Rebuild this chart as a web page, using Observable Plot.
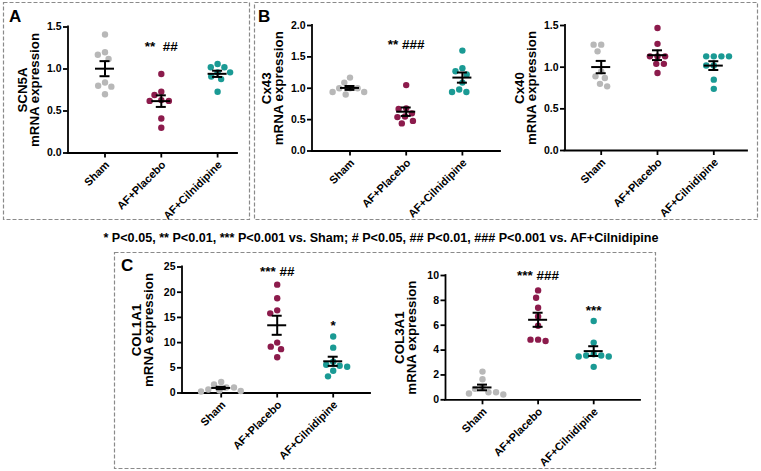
<!DOCTYPE html>
<html><head><meta charset="utf-8">
<script src="https://cdn.jsdelivr.net/npm/d3@7"></script>
<script src="https://cdn.jsdelivr.net/npm/@observablehq/plot@0.6"></script>
<style>
html,body{margin:0;padding:0;background:#fff;}
#fig{position:relative;width:761px;height:471px;overflow:hidden;font-family:"Liberation Sans",Arial,sans-serif;}
.panel{position:absolute;}
#overlay{position:absolute;left:0;top:0;}
</style></head><body>
<div id="fig"></div>
<script>
// ---------- data ----------
const groups = ["Sham", "AF+Placebo", "AF+Cilnidipine"];

const scn5aSham    = [1.41, 1.20, 1.17, 1.12, 0.84, 0.80, 0.79, 0.70];
const scn5aPlacebo = [0.94, 0.73, 0.69, 0.63, 0.62, 0.62, 0.41, 0.30];
const scn5aCil     = [1.06, 1.02, 1.02, 0.96, 0.96, 0.91, 0.88, 0.73];

const cx43Sham     = [1.17, 1.09, 1.00, 1.00, 1.00, 0.94, 0.94, 0.90];
const cx43Placebo  = [1.05, 0.68, 0.67, 0.60, 0.55, 0.54, 0.48, 0.44];
const cx43Cil      = [1.60, 1.32, 1.27, 1.22, 1.09, 0.98, 0.94, 0.94];

const cx40Sham     = [1.27, 1.27, 1.19, 0.95, 0.89, 0.87, 0.80, 0.77];
const cx40Placebo  = [1.47, 1.28, 1.13, 1.13, 1.13, 1.04, 1.04, 0.93];
const cx40Cil      = [1.13, 1.13, 1.13, 1.13, 1.02, 1.02, 0.85, 0.74];

const col1Sham     = [2.2, 1.7, 1.1, 1.1, 0.7, 0.5, 0.4, 0.3];
const col1Placebo  = [21.5, 18.8, 16.4, 15.8, 10.0, 9.2, 8.7, 7.1];
const col1Cil      = [11.2, 9.0, 6.2, 5.6, 5.4, 5.2, 4.4, 3.3];

const col3Sham     = [2.27, 1.65, 0.99, 0.88, 0.61, 0.61, 0.51, 0.43];
const col3Placebo  = [8.80, 8.21, 7.41, 6.71, 5.96, 4.84, 4.84, 4.73];
const col3Cil      = [6.34, 4.60, 3.66, 3.56, 3.56, 3.48, 3.48, 2.65];

const scn5aTicks = [0, 0.5, 1.0, 1.5];
const cx43Ticks  = [0, 0.5, 1.0, 1.5, 2.0];
const cx40Ticks  = [0, 0.5, 1.0, 1.5];
const col1Ticks  = [0, 5, 10, 15, 20, 25];
const col3Ticks  = [0, 2, 4, 6, 8, 10];

const scn5aSig = [{group: "AF+Placebo", text: "**  ##", level: 1.27}];
const cx43Sig  = [{group: "AF+Placebo", text: "** ###", level: 1.70}];
const cx40Sig  = [];
const col1Sig  = [{group: "AF+Placebo", text: "*** ##", level: 24.0}, {group: "AF+Cilnidipine", text: "*", level: 13.3}];
const col3Sig  = [{group: "AF+Placebo", text: "*** ###", level: 9.95}, {group: "AF+Cilnidipine", text: "***", level: 7.2}];

const caption = "* P<0.05, ** P<0.01, *** P<0.001 vs. Sham; # P<0.05, ## P<0.01, ### P<0.001 vs. AF+Cilnidipine";

// ---------- styles / layout ----------
const groupColors = ["#b8b8b8", "#8c1b4c", "#1a9a94"];
const FONT = "'Liberation Sans', Arial, Helvetica, sans-serif";

const panels = [
  {gene: "SCN5A", values: [scn5aSham, scn5aPlacebo, scn5aCil], ticks: scn5aTicks, fmt: ".1f", sig: scn5aSig,
   L: {left: 0, top: 0, width: 252, height: 220, axisX: 67.5, axisEnd: 237, c0: 104.5, step: 56.3, yTop: 26.5, yBot: 152.5}},
  {gene: "Cx43", values: [cx43Sham, cx43Placebo, cx43Cil], ticks: cx43Ticks, fmt: ".1f", sig: cx43Sig,
   L: {left: 256, top: 0, width: 250, height: 220, axisX: 311.5, axisEnd: 500, c0: 349.5, step: 56.2, yTop: 25, yBot: 150.5}},
  {gene: "Cx40", values: [cx40Sham, cx40Placebo, cx40Cil], ticks: cx40Ticks, fmt: ".1f", sig: cx40Sig,
   L: {left: 506, top: 0, width: 250, height: 220, axisX: 564.5, axisEnd: 747, c0: 600.7, step: 56.3, yTop: 25, yBot: 150}},
  {gene: "COL1A1", values: [col1Sham, col1Placebo, col1Cil], ticks: col1Ticks, fmt: "d", sig: col1Sig,
   L: {left: 116, top: 252, width: 260, height: 214, axisX: 181.5, axisEnd: 370, c0: 220.7, step: 56, yTop: 266.5, yBot: 392.5}},
  {gene: "COL3A1", values: [col3Sham, col3Placebo, col3Cil], ticks: col3Ticks, fmt: "d", sig: col3Sig,
   L: {left: 380, top: 252, width: 272, height: 214, axisX: 445, axisEnd: 640, c0: 482, step: 55.6, yTop: 275, yBot: 399.3}}
];

const fig = document.getElementById("fig");

// decorations: dashed panel boxes, panel letters, caption
const NS = "http://www.w3.org/2000/svg";
const ov = document.createElementNS(NS, "svg");
ov.setAttribute("id", "overlay");
ov.setAttribute("width", 761); ov.setAttribute("height", 471);
const boxes = [[3, 2, 246, 217], [254, 2, 503, 217], [114, 252, 541, 216]];
for (const [x, y, w, h] of boxes) {
  const r = document.createElementNS(NS, "rect");
  r.setAttribute("x", x + 0.5); r.setAttribute("y", y + 0.5);
  r.setAttribute("width", w); r.setAttribute("height", h);
  r.setAttribute("fill", "none"); r.setAttribute("stroke", "#8a8a8a");
  r.setAttribute("stroke-width", 1.2); r.setAttribute("stroke-dasharray", "4 2");
  ov.appendChild(r);
}
const letters = [["A", 9, 22], ["B", 258, 22], ["C", 121, 271]];
for (const [t, x, y] of letters) {
  const e = document.createElementNS(NS, "text");
  e.setAttribute("x", x); e.setAttribute("y", y);
  e.setAttribute("font-family", FONT); e.setAttribute("font-weight", "bold");
  e.setAttribute("font-size", 17);
  e.textContent = t; ov.appendChild(e);
}
const cap = document.createElementNS(NS, "text");
cap.setAttribute("x", 381); cap.setAttribute("y", 241.5);
cap.setAttribute("text-anchor", "middle");
cap.setAttribute("font-family", FONT); cap.setAttribute("font-weight", "bold");
cap.setAttribute("font-size", 12.6);
cap.textContent = caption; ov.appendChild(cap);
fig.appendChild(ov);

function renderPanel(p) {
  const L = p.L;
  const rows = groups.flatMap((g, i) => p.values[i].map(v => ({group: g, value: v})));
  const stats = groups.map((g, i) => {
    const v = p.values[i];
    const m = d3.mean(v), s = d3.deviation(v) / Math.sqrt(v.length);
    return {group: g, mean: m, lo: m - s, hi: m + s};
  });
  const bandStart = L.c0 - L.step / 2 - L.left;
  const marginLeft = bandStart;
  const marginRight = L.width - (bandStart + 3 * L.step);
  const ax0 = (L.axisX - L.c0) / L.step + 0.5;   // in first-band units
  const ax1 = (L.axisEnd - L.c0) / L.step + 0.5;
  const first = () => groups[0];
  const mw = 9.5 / L.step, cw = 5 / L.step;
  const fmt = d3.format(p.fmt);
  const yMax = d3.max(p.ticks);
  const sw = 1.8;

  const svg = Plot.plot({
    width: L.width, height: L.height,
    marginLeft, marginRight,
    marginTop: L.yTop - L.top, marginBottom: L.top + L.height - L.yBot,
    facet: {marginTop: 0, marginRight: 0, marginBottom: 0, marginLeft: 0},
    fx: {domain: groups, paddingInner: 0, paddingOuter: 0, round: false, axis: null},
    x: {domain: [0, 1], axis: null},
    y: {domain: [0, yMax], axis: null},
    color: {domain: groups, range: groupColors},
    style: `font-family: ${FONT}; font-weight: bold; font-size: 10px; background: transparent; overflow: visible;`,
    marks: [
      // axes
      Plot.ruleY([0], {fx: first, y: d => d, x1: () => ax0, x2: () => ax1, strokeWidth: sw, strokeLinecap: "square"}),
      Plot.ruleX([ax0], {fx: first, x: d => d, y1: () => 0, y2: () => yMax, strokeWidth: sw, strokeLinecap: "square"}),
      Plot.ruleY(p.ticks, {fx: first, y: d => d, x1: () => ax0, x2: () => ax0, insetLeft: -4.5, strokeWidth: sw}),
      Plot.text(p.ticks, {fx: first, y: d => d, x: () => ax0, dx: -6.5, textAnchor: "end", text: d => fmt(d), fontSize: 10.5}),
      Plot.text([p.gene + "\nmRNA expression"], {fx: first, x: () => ax0, text: d => d, rotate: -90, dx: -39, fontSize: 13.3, lineHeight: 0.9}),
      Plot.ruleX(groups, {fx: d => d, x: () => 0.5, y1: () => 0, y2: () => 0, insetBottom: -5, strokeWidth: sw}),
      Plot.text(groups, {fx: d => d, x: () => 0.5, y: () => 0, dy: 10, dx: 2.5, rotate: -45, textAnchor: "end", text: d => d, fontSize: 11}),
      // points
      Plot.dot(rows, Plot.dodgeX({anchor: "middle", padding: 1.2}, {fx: "group", y: "value", r: 3.2, fill: "group"})),
      // mean +/- SEM
      Plot.ruleY(stats, {fx: "group", y: "mean", x1: () => 0.5 - mw, x2: () => 0.5 + mw, strokeWidth: 2}),
      Plot.ruleY(stats, {fx: "group", y: "lo", x1: () => 0.5 - cw, x2: () => 0.5 + cw, strokeWidth: 2}),
      Plot.ruleY(stats, {fx: "group", y: "hi", x1: () => 0.5 - cw, x2: () => 0.5 + cw, strokeWidth: 2}),
      Plot.ruleX(stats, {fx: "group", x: () => 0.5, y1: "lo", y2: "hi", strokeWidth: 2}),
      // significance marks
      Plot.text(p.sig, {fx: "group", x: () => 0.5, y: "level", text: "text", fontSize: 13.5})
    ]
  });
  const div = document.createElement("div");
  div.className = "panel";
  div.style.left = L.left + "px";
  div.style.top = L.top + "px";
  div.style.width = L.width + "px";
  div.style.height = L.height + "px";
  div.appendChild(svg);
  fig.appendChild(div);
}
panels.forEach(renderPanel);
</script>
</body></html>
